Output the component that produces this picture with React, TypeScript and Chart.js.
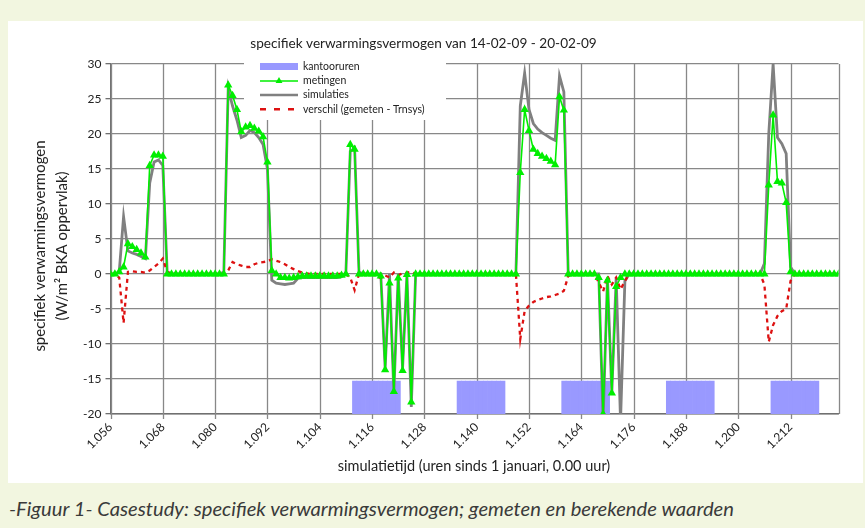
import React, { useEffect, useRef } from 'react';
import { Chart, registerables } from 'chart.js';

Chart.register(...registerables);

// ---------- data ----------
const START_HOUR = 1056; // first hour shown (14-02-09 00:00)
const END_HOUR = 1223;

// metingen (gemeten), one value per hour from 1056
const metingen = [
  0, 0, 0.3, 1.0, 4.3, 3.9, 3.5, 3.0, 2.4, 15.5, 17, 17,
  16.8, 0, 0, 0, 0, 0, 0, 0, 0, 0, 0, 0,
  0, 0, 0, 27, 25.5, 23.5, 20.3, 21, 21.2, 20.8, 20.4, 19.6,
  16, 0.5, 0, -0.5, -0.5, -0.6, -0.5, -0.4, -0.3, -0.3, -0.3, -0.3,
  -0.3, -0.3, -0.3, -0.3, -0.3, -0.2, 0, 18.5, 17.8, 0, 0, 0,
  0, 0, -0.3, -13.7, -1.3, -16.8, -0.6, -13.8, -0.1, -18.3, 0, 0,
  0, 0, 0, 0, 0, 0, 0, 0, 0, 0, 0, 0,
  0, 0, 0, 0, 0, 0, 0, 0, 0, 0, 14.5, 23.5,
  20.5, 17.8, 17.2, 16.8, 16.5, 16.1, 15.6, 25.3, 23.4, 0, 0, 0,
  0, 0, 0, 0, -0.5, -20, -0.9, -17, -1.8, -0.5, 0, 0,
  0, 0, 0, 0, 0, 0, 0, 0, 0, 0, 0, 0,
  0, 0, 0, 0, 0, 0, 0, 0, 0, 0, 0, 0,
  0, 0, 0, 0, 0, 0, 0, 12.7, 22.7, 13.2, 13.0, 10.2,
  0.3, 0, 0, 0, 0, 0, 0, 0, 0, 0, 0, 0,
];

// simulaties (Trnsys)
const simulaties = [
  0, 0, 0.3, 8.2, 3.3, 3.0, 2.8, 2.5, 2.2, 13, 16, 16.3,
  15.5, 0.3, 0, 0, 0, 0, 0, 0, 0, 0, 0, 0,
  0, 0, 0.3, 26.5, 24, 22, 19.5, 19.8, 20.5, 20.2, 19.5, 18.5,
  15, -0.9, -1.3, -1.4, -1.5, -1.4, -1.3, -0.6, -0.5, -0.5, -0.5, -0.5,
  -0.5, -0.5, -0.5, -0.5, -0.5, -0.4, 0.2, 17.5, 18, 0.3, 0, 0,
  0, 0, 0, -13.5, 0, -17, 0, -13.5, 0, -19, 0, 0,
  0, 0, 0, 0, 0, 0, 0, 0, 0, 0, 0, 0,
  0, 0, 0, 0, 0, 0, 0, 0, 0, 0, 24, 28.7,
  23.5, 21.5, 20.7, 20.2, 19.8, 19.4, 19.1, 28.3, 26, 0, 0, 0,
  0, 0, 0, 0, 0, -21, -0.5, -17, -0.5, -21, -1, 0,
  0, 0, 0, 0, 0, 0, 0, 0, 0, 0, 0, 0,
  0, 0, 0, 0, 0, 0, 0, 0, 0, 0, 0, 0,
  0, 0, 0, 0, 0, 0, 1.5, 20, 30, 19.5, 18.6, 17.2,
  1.0, 0, 0, 0, 0, 0, 0, 0, 0, 0, 0, 0,
];

// verschil (gemeten - Trnsys)
const verschil = [
  0, 0, -0.5, -7, 0.3, 0.4, 0.3, 0.3, 0.2, 0.5, 1.0, 1.5,
  2.2, 0.3, 0, 0, 0, 0, 0, 0, 0, 0, 0, 0,
  0, 0, 0, 0.5, 1.7, 1.4, 1.2, 1.0, 1.0, 1.4, 1.6, 1.7,
  1.8, 2.1, 1.9, 1.7, 1.4, 1.0, 0.7, 0.4, 0.2, 0.1, 0, 0,
  0, 0, 0, 0, 0, 0, 0, -0.5, -2.3, 0, 0, 0,
  0, -0.3, -0.6, -0.2, -0.5, 0.2, -0.2, 0.1, 0.2, 0.3, 0, 0,
  0, 0, 0, 0, 0, 0, 0, 0, 0, 0, 0, 0,
  0, 0, 0, 0, 0, 0, 0, 0, 0, 0, -9.3, -5.3,
  -4.5, -4.0, -3.7, -3.5, -3.3, -3.2, -3.0, -2.8, -2.4, -0.3, 0, 0,
  0, 0, 0, 0, -1.2, -2.5, -0.3, -1.5, -0.5, -2.2, -1, 0,
  0, 0, 0, 0, 0, 0, 0, 0, 0, 0, 0, 0,
  0, 0, 0, 0, 0, 0, 0, 0, 0, 0, 0, 0,
  0, 0, 0, 0, 0, 0, -1.5, -9.7, -7.3, -6.0, -5.3, -5.0,
  -1.0, 0, 0, 0, 0, 0, 0, 0, 0, 0, 0, 0,
];

// kantooruren: first office hour of each working day, number of hours, bar top level
const kantoorStart = [1112, 1136, 1160, 1184, 1208];
const kantoorAantalUren = 11;
const kantoorNiveau = -15.3;

const Y_MIN = -20;
const Y_MAX = 30;
const Y_STEP = 5;
const X_STEP = 12;

const titel = 'specifiek verwarmingsvermogen van 14-02-09 - 20-02-09';
const yTitel = ['specifiek verwarmingsvermogen', '(W/m\u00B2 BKA oppervlak)'];
const xTitel = 'simulatietijd (uren sinds 1 januari, 0.00 uur)';
const legendaLabels = ['kantooruren', 'metingen', 'simulaties', 'verschil (gemeten - Trnsys)'];
const onderschrift = '-Figuur 1- Casestudy: specifiek verwarmingsvermogen; gemeten en berekende waarden';

// ---------- styles ----------
const FONT = 'Lato, "Open Sans", sans-serif';
const TXT = '#222222';
const GRID = '#888888';
const AXIS = '#707070';
const BLUE = '#9999ff';
const GREEN = '#00ee00';
const GRAY = '#808080';
const RED = '#dd1111';
const GRID_W = 1.3;

const fmtHour = (v: number) => {
  const s = String(Math.round(v));
  return s.length > 3 ? s.slice(0, -3) + '.' + s.slice(-3) : s;
};

const overlay = {
  id: 'overlay',
  beforeDatasetsDraw(chart: any) {
    const { ctx, chartArea: a } = chart;
    const xs = chart.scales.x;
    ctx.save();
    ctx.strokeStyle = GRID;
    ctx.lineWidth = GRID_W;
    ctx.beginPath();
    xs.ticks.forEach((t: any) => {
      const px = Math.round(xs.getPixelForValue(t.value)) + 0.5;
      ctx.moveTo(px, a.top);
      ctx.lineTo(px, a.bottom + 5);
    });
    // right border of plot area
    const rx = Math.round(a.right) + 0.5;
    ctx.moveTo(rx, a.top);
    ctx.lineTo(rx, a.bottom);
    ctx.stroke();
    ctx.restore();
  },
  afterDatasetsDraw(chart: any) {
    const { ctx } = chart;
    ctx.save();
    // legend box
    ctx.fillStyle = '#ffffff';
    ctx.fillRect(236, 35, 202, 64);
    const sx0 = 252, sx1 = 290, tx = 295;
    const rows = [45.5, 60, 74, 88.3];
    // kantooruren
    ctx.fillStyle = BLUE;
    ctx.fillRect(sx0, rows[0] - 3.5, sx1 - sx0, 7);
    // metingen
    ctx.strokeStyle = GREEN;
    ctx.lineWidth = 1.6;
    ctx.beginPath();
    ctx.moveTo(sx0, rows[1]);
    ctx.lineTo(sx1, rows[1]);
    ctx.stroke();
    const cx = (sx0 + sx1) / 2, r = 4;
    ctx.fillStyle = GREEN;
    ctx.beginPath();
    for (let k = 0; k < 3; k++) {
      const ang = (k * 2 * Math.PI) / 3;
      const px = cx + Math.sin(ang) * r, py = rows[1] - Math.cos(ang) * r;
      if (k === 0) ctx.moveTo(px, py); else ctx.lineTo(px, py);
    }
    ctx.closePath();
    ctx.fill();
    // simulaties
    ctx.strokeStyle = GRAY;
    ctx.lineWidth = 2.6;
    ctx.beginPath();
    ctx.moveTo(sx0, rows[2]);
    ctx.lineTo(sx1, rows[2]);
    ctx.stroke();
    // verschil
    ctx.strokeStyle = RED;
    ctx.lineWidth = 2.4;
    ctx.setLineDash([6, 8]);
    ctx.beginPath();
    ctx.moveTo(sx0, rows[3]);
    ctx.lineTo(sx1 + 2, rows[3]);
    ctx.stroke();
    ctx.setLineDash([]);

    ctx.fillStyle = TXT;
    ctx.font = `10.5px ${FONT}`;
    ctx.textAlign = 'left';
    ctx.textBaseline = 'middle';
    legendaLabels.forEach((t, i) => ctx.fillText(t, tx, rows[i]));
    ctx.restore();
  },
  afterDraw(chart: any) {
    const { ctx } = chart;
    ctx.save();
    ctx.fillStyle = TXT;
    ctx.textAlign = 'center';
    ctx.textBaseline = 'middle';
    // chart title
    ctx.font = `13.6px ${FONT}`;
    ctx.fillText(titel, 415.5, 23);
    // x-axis title
    ctx.font = `14.5px ${FONT}`;
    ctx.fillText(xTitel, 466, 445);
    // y-axis title (two lines, rotated)
    ctx.font = `15px ${FONT}`;
    ctx.translate(0, 225);
    ctx.rotate(-Math.PI / 2);
    ctx.fillText(yTitel[0], 0, 32);
    ctx.fillText(yTitel[1], 0, 54.5);
    ctx.restore();
  },
};

export default function App() {
  const ref = useRef<HTMLCanvasElement | null>(null);

  useEffect(() => {
    if (!ref.current) return;
    Chart.defaults.font.family = FONT;
    Chart.defaults.color = TXT;

    const pts = (arr: number[]) => arr.map((v, i) => ({ x: START_HOUR + i, y: v }));
    const barData: { x: number; y: number[] }[] = [];
    kantoorStart.forEach((s) => {
      for (let k = 0; k < kantoorAantalUren; k++) barData.push({ x: s + k, y: [Y_MIN, kantoorNiveau] });
    });

    const chart = new Chart(ref.current, {
      type: 'line',
      data: {
        datasets: [
          {
            type: 'bar',
            label: legendaLabels[0],
            data: barData as any,
            backgroundColor: BLUE,
            borderWidth: 0,
            barPercentage: 1,
            categoryPercentage: 1,
            order: 4,
          } as any,
          {
            type: 'line',
            label: legendaLabels[2],
            data: pts(simulaties),
            borderColor: GRAY,
            borderWidth: 2.8,
            pointRadius: 0,
            tension: 0,
            order: 3,
          },
          {
            type: 'line',
            label: legendaLabels[3],
            data: pts(verschil),
            borderColor: RED,
            borderWidth: 2.3,
            borderDash: [4, 4],
            pointRadius: 0,
            tension: 0,
            order: 2,
          },
          {
            type: 'line',
            label: legendaLabels[1],
            data: pts(metingen),
            borderColor: GREEN,
            borderWidth: 1.6,
            pointStyle: 'triangle',
            pointRadius: 4.8,
            pointBackgroundColor: GREEN,
            pointBorderColor: GREEN,
            pointBorderWidth: 0,
            tension: 0,
            order: 1,
          },
        ],
      },
      options: {
        animation: false,
        responsive: false,
        devicePixelRatio: 1,
        events: [],
        layout: { padding: { left: 0, top: 43, right: 24.5, bottom: 0 } },
        plugins: { legend: { display: false }, title: { display: false }, tooltip: { enabled: false } },
        scales: {
          x: {
            type: 'linear',
            min: START_HOUR,
            max: END_HOUR,
            offset: false,
            grid: { display: false, offset: false, tickLength: 5 },
            border: { display: true, color: AXIS, width: 1.5 },
            ticks: {
              stepSize: X_STEP,
              autoSkip: false,
              includeBounds: false,
              minRotation: 45,
              maxRotation: 45,
              padding: 1,
              color: TXT,
              font: { size: 12 },
              callback: (v: any) => fmtHour(Number(v)),
            },
            afterFit: (s: any) => {
              s.height = 69;
            },
          } as any,
          y: {
            type: 'linear',
            min: Y_MIN,
            max: Y_MAX,
            grid: { color: GRID, lineWidth: GRID_W, tickLength: 5, tickColor: AXIS },
            border: { color: AXIS, width: 1.5 },
            ticks: { stepSize: Y_STEP, padding: 4, color: TXT, font: { size: 12 } },
            afterFit: (s: any) => {
              s.width = 102.5;
            },
          } as any,
        },
      },
      plugins: [overlay],
    });
    return () => chart.destroy();
  }, []);

  return (
    <div style={{ position: 'absolute', left: 0, top: 0, width: 865, height: 528, background: '#f2f6e0', overflow: 'hidden' }}>
      <div style={{ position: 'absolute', left: 8, top: 21, width: 855, height: 462, background: '#ffffff' }}>
        <canvas ref={ref} width={855} height={462} style={{ width: 855, height: 462, display: 'block' }} />
      </div>
      <div
        style={{
          position: 'absolute',
          left: 9,
          top: 496,
          height: 24,
          lineHeight: '24px',
          fontFamily: FONT,
          fontStyle: 'italic',
          fontSize: 20.2,
          color: '#3a3a3a',
          whiteSpace: 'nowrap',
        }}
      >
        {onderschrift}
      </div>
    </div>
  );
}
